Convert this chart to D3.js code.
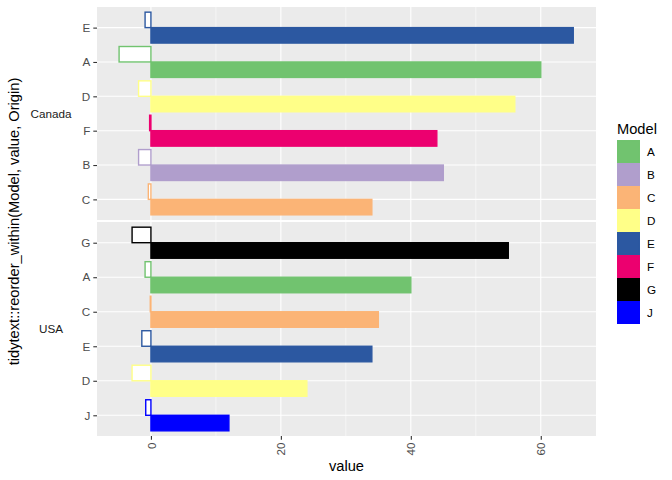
<!DOCTYPE html>
<html>
<head>
<meta charset="utf-8">
<script src="https://cdn.jsdelivr.net/npm/d3@7"></script>
<style>
  body { margin: 0; background: #fff; }
  svg text { font-family: "Liberation Sans", Arial, sans-serif; }
</style>
</head>
<body>
<div id="chart"></div>
<script>
// Data (top to bottom within each origin)
const canadaModels = ["E", "A", "D", "F", "B", "C"];
const canadaValues = [65, 60, 56, 44, 45, 34];
const canadaNeg = [-0.9, -4.9, -1.9, -0.2, -1.9, -0.4];

const usaModels = ["G", "A", "C", "E", "D", "J"];
const usaValues = [55, 40, 35, 34, 24, 12];
const usaNeg = [-2.9, -0.9, -0.1, -1.4, -2.9, -0.8];

const legendModels = ["A", "B", "C", "D", "E", "F", "G", "J"];
const modelColors = ["#71C36F", "#B09ECC", "#FBB476", "#FFFF88", "#2C58A1", "#EC006F", "#000000", "#0000FF"];
const xTicks = [0, 20, 40, 60];
const xMinor = [-10, 10, 30, 50];

const color = d3.scaleOrdinal().domain(legendModels).range(modelColors);

const width = 672, height = 480;
const svg = d3.select("#chart").append("svg")
  .attr("width", width)
  .attr("height", height);

const panelLeft = 97, panelRight = 596;
const x = d3.scaleLinear().domain([-8.3, 68.5]).range([panelLeft, panelRight]);

const panels = [
  { origin: "Canada", models: canadaModels, values: canadaValues, neg: canadaNeg, top: 7, bottom: 220 },
  { origin: "USA", models: usaModels, values: usaValues, neg: usaNeg, top: 222, bottom: 436 }
];

panels.forEach(p => {
  const y = d3.scalePoint().domain(p.models).range([p.top, p.bottom]).padding(0.6);
  const step = y.step();
  const bw = step * 0.45;
  const g = svg.append("g");

  // panel background
  g.append("rect")
    .attr("x", panelLeft).attr("y", p.top)
    .attr("width", panelRight - panelLeft).attr("height", p.bottom - p.top)
    .attr("fill", "#EBEBEB");

  // minor grid
  g.selectAll(".minor").data(xMinor.filter(d => x(d) > panelLeft)).enter()
    .append("line")
    .attr("x1", d => x(d)).attr("x2", d => x(d))
    .attr("y1", p.top).attr("y2", p.bottom)
    .attr("stroke", "#fff").attr("stroke-width", 0.55);

  // major grid
  g.selectAll(".major").data(xTicks).enter()
    .append("line")
    .attr("x1", d => x(d)).attr("x2", d => x(d))
    .attr("y1", p.top).attr("y2", p.bottom)
    .attr("stroke", "#fff").attr("stroke-width", 1.1);

  g.selectAll(".hgrid").data(p.models).enter()
    .append("line")
    .attr("x1", panelLeft).attr("x2", panelRight)
    .attr("y1", d => y(d)).attr("y2", d => y(d))
    .attr("stroke", "#fff").attr("stroke-width", 1.1);

  // hollow (negative) bars above the tick
  g.selectAll(".neg").data(p.models).enter()
    .append("rect")
    .attr("x", (d, i) => x(p.neg[i]))
    .attr("y", d => y(d) - bw)
    .attr("width", (d, i) => x(0) - x(p.neg[i]))
    .attr("height", bw)
    .attr("fill", "#fff")
    .attr("stroke", d => color(d))
    .attr("stroke-width", 1.4);

  // filled bars below the tick
  g.selectAll(".pos").data(p.models).enter()
    .append("rect")
    .attr("x", x(0))
    .attr("y", d => y(d))
    .attr("width", (d, i) => x(p.values[i]) - x(0))
    .attr("height", bw)
    .attr("fill", d => color(d))
    .attr("stroke", d => color(d))
    .attr("stroke-width", 1.4);

  // y axis
  const yAxis = svg.append("g")
    .attr("transform", `translate(${panelLeft},0)`)
    .call(d3.axisLeft(y).tickSize(3.7).tickPadding(3));
  yAxis.select(".domain").remove();
  yAxis.selectAll("line").attr("stroke", "#333").attr("stroke-width", 1.1);
  yAxis.selectAll("text").attr("fill", "#4D4D4D").style("font-size", "11.7px");

  // strip label
  svg.append("text")
    .attr("x", 51)
    .attr("y", (p.top + p.bottom) / 2)
    .attr("dy", "0.35em")
    .attr("text-anchor", "middle")
    .attr("fill", "#1A1A1A")
    .style("font-size", "11.7px")
    .text(p.origin);
});

// x axis
const xAxis = svg.append("g")
  .attr("transform", `translate(0,436)`)
  .call(d3.axisBottom(x).tickValues(xTicks).tickSize(3.7).tickPadding(3));
xAxis.select(".domain").remove();
xAxis.selectAll("line").attr("stroke", "#333").attr("stroke-width", 1.1);
xAxis.selectAll("text")
  .attr("fill", "#4D4D4D")
  .style("font-size", "11.7px")
  .attr("text-anchor", "end")
  .attr("transform", "rotate(-90)")
  .attr("x", -6.5)
  .attr("y", 0)
  .attr("dy", "0.35em");

// axis titles
svg.append("text")
  .attr("x", (panelLeft + panelRight) / 2)
  .attr("y", 471)
  .attr("text-anchor", "middle")
  .style("font-size", "14.67px")
  .attr("fill", "#000")
  .text("value");

svg.append("text")
  .attr("transform", `translate(19,${(7 + 436) / 2}) rotate(-90)`)
  .attr("text-anchor", "middle")
  .style("font-size", "14.67px")
  .attr("fill", "#000")
  .text("tidytext::reorder_within(Model, value, Origin)");

// legend
const legend = svg.append("g").attr("transform", "translate(617,140)");
legend.append("text")
  .attr("x", 0).attr("y", -6)
  .style("font-size", "14.67px")
  .attr("fill", "#000")
  .text("Model");

const keySize = 23;
const items = legend.selectAll(".item").data(legendModels).enter()
  .append("g")
  .attr("transform", (d, i) => `translate(0,${i * keySize})`);
items.append("rect")
  .attr("width", keySize).attr("height", keySize)
  .attr("fill", "#EBEBEB");
items.append("rect")
  .attr("x", 0.7).attr("y", 0.7)
  .attr("width", keySize - 1.4).attr("height", keySize - 1.4)
  .attr("fill", d => color(d))
  .attr("stroke", d => color(d))
  .attr("stroke-width", 1.4);
items.append("text")
  .attr("x", keySize + 7)
  .attr("y", keySize / 2)
  .attr("dy", "0.35em")
  .style("font-size", "11.7px")
  .attr("fill", "#000")
  .text(d => d);
</script>
</body>
</html>
